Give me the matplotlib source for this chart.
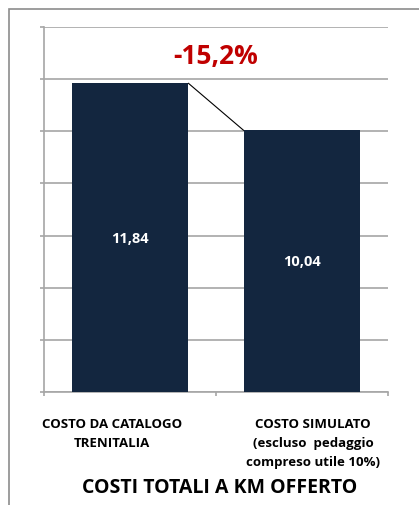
import matplotlib
matplotlib.use("Agg")
import numpy as np
from matplotlib import pyplot as plt
from matplotlib.patches import Rectangle
from matplotlib.transforms import ScaledTranslation

# Cost per km figures
categories = [
    "COSTO DA CATALOGO\nTRENITALIA",
    "COSTO SIMULATO\n(escluso  pedaggio\ncompreso utile 10%)",
]
costs = [11.84, 10.04]
value_labels = ["11,84", "10,04"]
change_label = "-15,2%"
title = "COSTI TOTALI A KM OFFERTO"

BAR_COLOR = "#13263f"
GRID_COLOR = "#a6a6a6"

plt.rcParams["font.family"] = ["Open Sans", "DejaVu Sans"]

fig = plt.figure(figsize=(4.19, 5.06), dpi=100)
ax = fig.add_axes([0.105, 0.2233, 0.821, 0.7213])

x = np.arange(len(costs))
bars = ax.bar(x, costs, width=0.68, color=BAR_COLOR, zorder=3)

ax.set_xlim(-0.5, 1.5)
ax.set_ylim(0, 14)
ax.set_yticks(np.arange(0, 15, 2))
ax.set_yticklabels([])
ax.yaxis.grid(True, color=GRID_COLOR, linewidth=1.2, zorder=0)
ax.tick_params(axis="y", direction="out", length=3, color=GRID_COLOR, width=1.2)

ax.set_xticks([-0.5, 0.5, 1.5])
ax.set_xticklabels([])
ax.tick_params(axis="x", direction="out", length=3, color=GRID_COLOR, width=1.2)
ax.set_xticks(x, minor=True)
ax.set_xticklabels(categories, minor=True, fontsize=9.5, fontweight="bold",
                   linespacing=1.6, va="top")
ax.tick_params(axis="x", which="minor", length=0, pad=18)
shifts = [-18, 11]
for lbl, dx in zip(ax.get_xticklabels(minor=True), shifts):
    lbl.set_transform(lbl.get_transform() + ScaledTranslation(dx / 100, 0, fig.dpi_scale_trans))

for side in ["top", "right"]:
    ax.spines[side].set_visible(False)
for side in ["left", "bottom"]:
    ax.spines[side].set_color(GRID_COLOR)
    ax.spines[side].set_linewidth(1.2)

# value labels inside the bars
for b, lab in zip(bars, value_labels):
    ax.text(b.get_x() + b.get_width() / 2, b.get_height() / 2, lab,
            ha="center", va="center", color="white", fontsize=10.5,
            fontweight="bold", zorder=4)

# connector between the two bar tops
b0, b1 = bars
ax.plot([b0.get_x() + b0.get_width(), b1.get_x()],
        [b0.get_height(), b1.get_height()], color="black", linewidth=0.8, zorder=4)

ax.text(0.5, 12.9, change_label, ha="center", va="center", color="#c00000",
        fontsize=19, fontweight="bold")

fig.text(0.523, 0.035, title, ha="center", va="center", fontsize=14,
         fontweight="bold")

# chart area border
fig.patches.append(Rectangle((9 / 419, -0.2), 1.2, 1.2 - 10 / 506, transform=fig.transFigure,
                             fill=False, edgecolor="#8c8c8c", linewidth=1.2))

fig.savefig("out.png", dpi=100)
